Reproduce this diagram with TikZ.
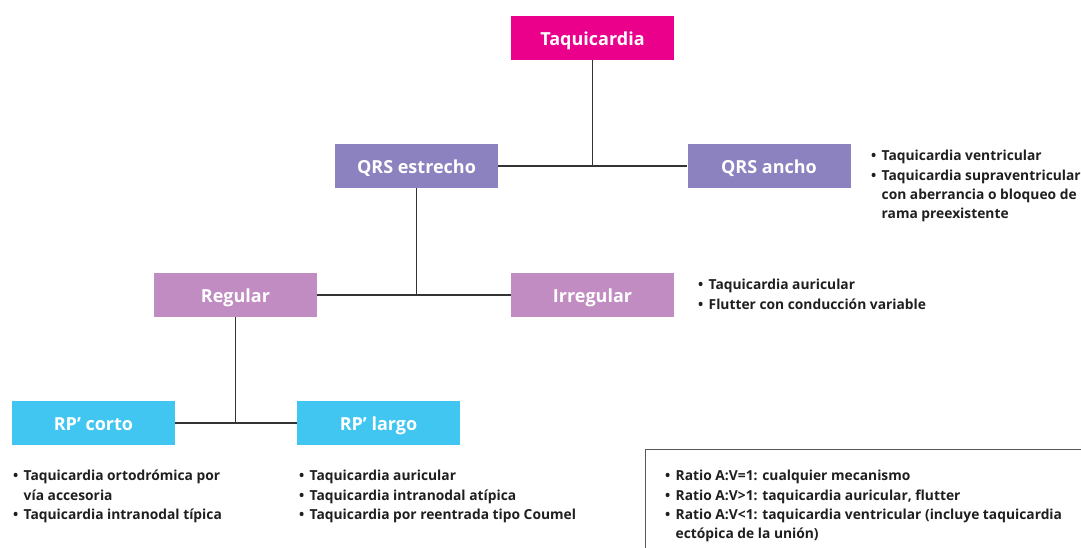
\documentclass[tikz,border=0pt]{standalone}
\usepackage{fontspec}
\setmainfont{Open Sans}
\begin{document}
\begin{tikzpicture}[x=1pt,y=-1pt,
  box/.style={minimum width=163pt,minimum height=44pt,inner sep=0pt,text height=15pt,text depth=0pt,text=white,font=\fontsize{18}{20}\selectfont\bfseries},
  conn/.style={draw=black!80,line width=1.2pt},
  lst/.style={anchor=north west,inner sep=0pt,align=left,text=black!88,font=\fontsize{13.8}{19.4}\selectfont\bfseries}]
\definecolor{cmag}{HTML}{EB008B}
\definecolor{cpur}{HTML}{8B82BF}
\definecolor{cmau}{HTML}{C08CC1}
\definecolor{ccya}{HTML}{41C6F2}
\newcommand{\bl}{\makebox[10.5pt][l]{•}}
\newcommand{\ind}{\hspace*{10.5pt}}
\useasboundingbox (0,0) rectangle (1081,548);
\fill[white] (0,0) rectangle (1081,548);
\node[box,fill=cmag] (taq) at (592.5,38) {Taquicardia};
\node[box,fill=cpur] (qe) at (416.5,166) {QRS estrecho};
\node[box,fill=cpur] (qa) at (769,166) {QRS ancho};
\node[box,fill=cmau] (reg) at (235.5,295) {Regular};
\node[box,fill=cmau] (irr) at (592.5,295) {Irregular};
\node[box,fill=ccya] (rc) at (93.5,423) {RP’ corto};
\node[box,fill=ccya] (rl) at (378.5,423) {RP’ largo};
\coordinate (j1) at (taq.south |- qe.east);
\coordinate (j2) at (qe.south |- reg.east);
\coordinate (j3) at (reg.south |- rc.east);
\draw[conn] (qe.east) -- (qa.west);
\draw[conn] (taq.south) -- (j1);
\draw[conn] (reg.east) -- (irr.west);
\draw[conn] (qe.south) -- (j2);
\draw[conn] (rc.east) -- (rl.west);
\draw[conn] (reg.south) -- (j3);
\node[lst] (la) at (871,150) {\bl Taquicardia ventricular\\\bl Taquicardia supraventricular\\\ind con aberrancia o bloqueo de\\\ind rama preexistente};
\node[lst] (li) at (698,279) {\bl Taquicardia auricular\\\bl Flutter con conducción variable};
\node[lst] (lc) at (13,470) {\bl Taquicardia ortodrómica por\\\ind vía accesoria\\\bl Taquicardia intranodal típica};
\node[lst] (ll) at (299,470) {\bl Taquicardia auricular\\\bl Taquicardia intranodal atípica\\\bl Taquicardia por reentrada tipo Coumel};
\coordinate (bxa) at (645,549);
\coordinate (bxb) at (645,449.5);
\coordinate (bxc) at (1082,449.5);
\draw[draw=black!65,line width=1pt] (bxa) -- (bxb) -- (bxc);
\node[lst] (lr) at (665,470) {\bl Ratio A:V=1: cualquier mecanismo\\\bl Ratio A:V>1: taquicardia auricular, flutter\\\bl Ratio A:V<1: taquicardia ventricular (incluye taquicardia\\\ind ectópica de la unión)};
\end{tikzpicture}
\end{document}
